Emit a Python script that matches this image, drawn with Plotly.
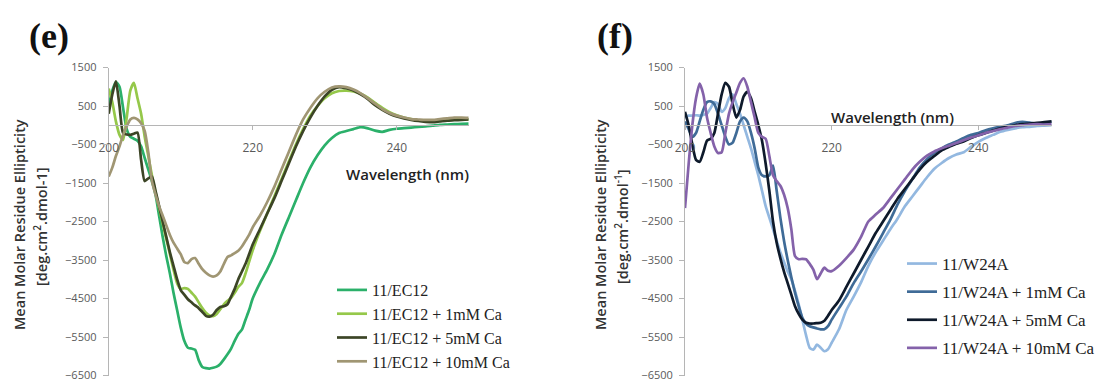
import plotly.graph_objects as go

# Wavelength grid (nm)
wl = [200 + 0.5 * i for i in range(41)] + [221 + i for i in range(30)]

# ---- Panel (e) ----
ec12 = [500, 900, 1130, 1000, 450, -100, -300, -350, -400, -550,
        -850, -1150, -1450, -1800, -2350, -2900, -3400, -3850, -4350, -4800,
        -5250, -5600, -5780, -5800, -5830, -6100, -6280, -6310, -6320, -6300,
        -6270, -6200, -6080, -5950, -5800, -5600, -5420, -5310, -5050, -4800,
        -4500,
        -4100, -3750, -3350, -2850, -2400, -1950, -1500, -1100, -780, -520,
        -330, -200, -150, -100, -50, -80, -140, -170, -120, -90,
        -75, -60, -45, -30, -10, 10, 20, 30, 35, 40]
ec12_1 = [950, 600, 100, -250, -380, 200, 900, 1100, 700, 300,
          -300, -800, -1300, -1750, -2150, -2550, -2950, -3350, -3750, -4100,
          -4250, -4230, -4250, -4350, -4450, -4600, -4750, -4870, -4940, -4960,
          -4900, -4780, -4650, -4560, -4480, -4350, -4200, -4100, -3850, -3550,
          -3250,
          -2750, -2300, -1850, -1400, -950, -500, -100, 250, 500, 700,
          830, 890, 900, 880, 820, 720, 580, 450, 340, 260,
          200, 160, 130, 120, 120, 130, 150, 160, 160, 150]
ec12_5 = [300, 800, 1140, 500, -200, -240, -250, -220, -190, -900,
          -1450, -1380, -1330, -1700, -2100, -2500, -2900, -3300, -3650, -4000,
          -4280, -4400, -4520, -4600, -4680, -4750, -4850, -4950, -4970, -4920,
          -4800, -4720, -4700, -4650, -4450, -4250, -4000, -3800, -3600, -3350,
          -3100,
          -2700, -2300, -1900, -1450, -1000, -550, -150, 200, 500, 750,
          920, 990, 960, 900, 800, 680, 520, 400, 300, 230,
          180, 140, 110, 90, 80, 100, 120, 130, 140, 150]
ec12_10 = [-1330, -1100, -800, -550, -250, -30, 150, 190, 150, 50,
           -150, -700, -1450, -1800, -2100, -2350, -2600, -2850, -3050, -3200,
           -3350, -3550, -3580, -3480, -3450, -3600, -3740, -3830, -3900, -3930,
           -3900, -3800, -3600, -3420, -3380, -3320, -3260, -3150, -3000, -2850,
           -2650,
           -2350, -2000, -1600, -1150, -700, -250, 150, 450, 700, 870,
           980, 1010, 990, 930, 830, 700, 560, 420, 320, 250,
           200, 160, 150, 140, 140, 160, 180, 200, 200, 190]

# ---- Panel (f) ----
w24a = [200, 250, 250, 260, 250, 270, 300, 450, 600, 550,
        350, 450, 700, 800, 550, 300, 0, -300, -600, -950,
        -1300, -1700, -2100, -2400, -2700, -3000, -3300, -3550, -3800, -4000,
        -4300, -4650, -5050, -5450, -5780, -5830, -5700, -5780, -5870, -5820,
        -5650,
        -5300, -4800, -4450, -4080, -3650, -3300, -3000, -2700, -2420, -2100,
        -1850, -1600, -1350, -1130, -980, -850, -760, -700, -560, -430,
        -330, -250, -170, -120, -80, -50, -40, -20, -10, 0]
w24a_1 = [100, -100, -300, -200, 100, 400, 600, 620, 550, 300,
          0, -300, -500, -450, -200, 100, 200, 100, -200, -600,
          -1100, -1300, -1330, -1300, -1050, -1700, -2400, -3000, -3500, -3950,
          -4350, -4700, -5000, -5150, -5220, -5250, -5280, -5300, -5300, -5220,
          -5050,
          -4750, -4450, -4100, -3800, -3480, -3150, -2800, -2450, -2050, -1700,
          -1400, -1100, -880, -720, -600, -500, -420, -330, -250, -200,
          -130, -80, -40, 0, 60, 90, 70, 40, 60, 90]
w24a_5 = [350, 0, -500, -900, -950, -700, -400, -350, -200, 300,
          800, 1100, 1000, 550, 200, 400, 750, 870, 700, 350,
          0, -400, -1000, -1700, -2500, -3050, -3450, -3800, -4100, -4400,
          -4700, -4900, -5050, -5130, -5150, -5150, -5140, -5130, -5080, -4950,
          -4800,
          -4550, -4200, -3850, -3500, -3150, -2800, -2500, -2200, -1900, -1650,
          -1400, -1150, -950, -800, -650, -560, -480, -420, -330, -260,
          -200, -140, -80, -40, 0, 30, 40, 60, 80, 100]
w24a_10 = [-2150, -1000, 0, 700, 1080, 800, 200, -200, -550, -720,
           -700, -200, 300, 600, 850, 1100, 1220, 1000, 600, 200,
           -200, -300, -350, -800, -1300, -1450, -1570, -1800, -2150, -2700,
           -3400, -3480, -3470, -3480, -3600, -3750, -4000, -3850, -3700, -3780,
           -3790,
           -3650, -3450, -3230, -2900, -2500, -2320, -2150, -1900, -1650, -1400,
           -1150, -950, -790, -680, -600, -530, -460, -390, -320, -260,
           -200, -150, -100, -60, -20, 0, 20, 30, 20, 30]

names_e = ["11/EC12", "11/EC12 + 1mM Ca", "11/EC12 + 5mM Ca", "11/EC12 + 10mM Ca"]
names_f = ["11/W24A", "11/W24A + 1mM Ca", "11/W24A + 5mM Ca", "11/W24A + 10mM Ca"]
colors_e = ["#2bb06a", "#95c84a", "#3c4526", "#a09673"]
colors_f = ["#93b8e0", "#3f6b97", "#0e1a2b", "#8462aa"]

y_ticks = [-6500, -5500, -4500, -3500, -2500, -1500, -500, 500, 1500]
x_ticks = [200, 220, 240]

fig = go.Figure()
for i, (s, n, c) in enumerate(zip([ec12, ec12_1, ec12_5, ec12_10], names_e, colors_e)):
    fig.add_trace(go.Scatter(x=wl, y=s, name=n, mode="lines",
                             line=dict(color=c, width=2.7, shape="spline", smoothing=0.6),
                             xaxis="x", yaxis="y", legend="legend"))
for i, (s, n, c) in enumerate(zip([w24a, w24a_1, w24a_5, w24a_10], names_f, colors_f)):
    fig.add_trace(go.Scatter(x=wl, y=s, name=n, mode="lines", legendgroup="g%d" % i,
                             line=dict(color=c, width=2.7, shape="spline", smoothing=0.6),
                             xaxis="x2", yaxis="y2", legend="legend2"))

ydom = [1 - 375.5 / 383, 1 - 67.5 / 383]
zero_pos = ydom[0] + (ydom[1] - ydom[0]) * 6500 / 8000

tickfont = dict(family="Open Sans, Arial", size=11, color="#5a5a5a")
common_x = dict(range=[200, 250], tickvals=x_ticks, showgrid=False, zeroline=False,
                showline=True, linecolor="#b5b5b5", linewidth=1, ticks="outside",
                ticklen=4, tickcolor="#b5b5b5", tickfont=dict(family="Open Sans, Arial", size=12, color="#5a5a5a"),
                ticklabelstandoff=7, anchor="free", position=zero_pos)
common_y = dict(range=[-6500, 1500], tickvals=y_ticks, showgrid=False, zeroline=False,
                showline=True, linecolor="#b5b5b5", linewidth=1, ticks="outside",
                ticklen=5, tickcolor="#b5b5b5", tickfont=tickfont, ticklabelstandoff=4,
                domain=ydom)

legend_font = dict(family="Liberation Serif, Times New Roman", size=17, color="#222")
fig.update_layout(
    width=1097, height=383,
    margin=dict(l=0, r=0, t=0, b=0, autoexpand=False),
    paper_bgcolor="white", plot_bgcolor="white",
    xaxis=dict(domain=[108.7 / 1097, 468.7 / 1097], **common_x),
    yaxis=dict(anchor="x", **common_y),
    xaxis2=dict(domain=[685 / 1097, 1051.7 / 1097], **common_x),
    yaxis2=dict(anchor="x2", **common_y),
    legend=dict(x=332 / 1097, y=1 - 273 / 383, xanchor="left", yanchor="top",
                font=dict(legend_font, size=16),
                bgcolor="rgba(0,0,0,0)", itemwidth=30, tracegroupgap=0),
    legend2=dict(x=902 / 1097, y=1 - 246 / 383, xanchor="left", yanchor="top",
                 font=legend_font,
                 bgcolor="rgba(0,0,0,0)", itemwidth=30, tracegroupgap=3),
    showlegend=True,
)

title_font = dict(family="Open Sans, Arial", size=14.5, color="#333", weight=600)
ann = []


def add_ann(text, px, py, font, angle=0):
    ann.append(dict(text=text, x=px / 1097, y=1 - py / 383, xref="paper", yref="paper",
                    xanchor="center", yanchor="middle", showarrow=False,
                    textangle=angle, font=font))


letter_font = dict(family="Liberation Serif, Times New Roman", size=36, color="#111")
add_ann("<b>(e)</b>", 49, 36, letter_font)
add_ann("<b>(f)</b>", 615, 36, letter_font)
wl_font = dict(family="Open Sans, Arial", size=15, color="#222", weight=600)
add_ann("Wavelength (nm)", 407, 174, wl_font)
add_ann("Wavelength (nm)", 892, 117, wl_font)
for x1, x2, sub in [(19, 40, "[deg.cm<sup>2</sup>.dmol-1]"), (600, 621, "[deg.cm<sup>2</sup>.dmol<sup>-1</sup>]")]:
    add_ann("Mean Molar Residue Ellipticity", x1, 225, title_font, -90)
    add_ann(sub, x2, 227, title_font, -90)
fig.update_layout(annotations=ann)

fig.write_html("out.html", config={"displayModeBar": False},
               post_script="document.body.style.margin='0';")
